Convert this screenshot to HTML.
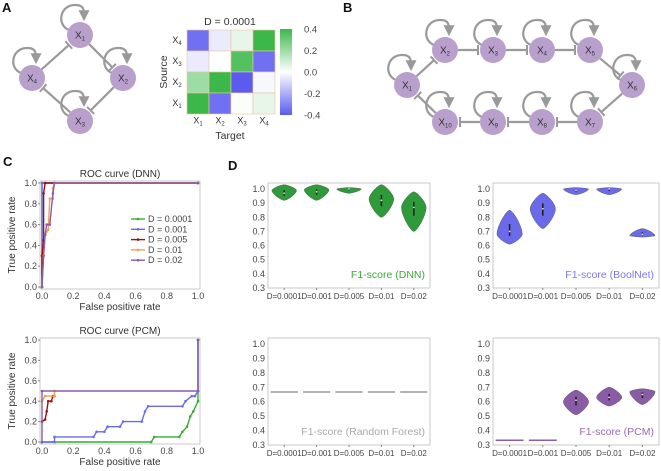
<!DOCTYPE html>
<html><head><meta charset="utf-8">
<style>
html,body{margin:0;padding:0;background:#fff;}
svg{display:block;font-family:"Liberation Sans",Arial,sans-serif;}
</style></head>
<body>
<svg id="fig" width="661" height="471" viewBox="0 0 661 471" xmlns="http://www.w3.org/2000/svg">
<defs>
<marker id="arr" viewBox="0 0 10 10" refX="8" refY="5" markerWidth="5" markerHeight="5" orient="auto"><path d="M0,0 L10,5 L0,10 z" fill="#999"/></marker>
<linearGradient id="cbar" x1="0" y1="0" x2="0" y2="1">
<stop offset="0" stop-color="#3cb84a"/><stop offset="0.5" stop-color="#ffffff"/><stop offset="1" stop-color="#5b5bf0"/>
</linearGradient>
</defs>
<g id="root"></g>
</svg>
<script>
// ---------- data ----------
const heatRows = ["X4","X3","X2","X1"];
const heatCols = ["X1","X2","X3","X4"];
const heatVals = [
  [-0.35,-0.05,0.05,0.40],
  [-0.05,0.00,0.35,-0.35],
  [0.20,0.40,-0.40,-0.02],
  [0.40,-0.35,0.01,0.05]
];
const cbarTicks = [0.4,0.2,0.0,-0.2,-0.4];

const rocLegend = ["D = 0.0001","D = 0.001","D = 0.005","D = 0.01","D = 0.02"];
const rocTicks = [0,0.2,0.4,0.6,0.8,1.0];
const dnnFpr = [
  [0,0,1],
  [0,0,1],
  [0,0,0.01,0.01,0.02,1],
  [0,0.01,0.02,0.04,0.05,0.07,0.07,0.08,1],
  [0,0.01,0.02,0.03,0.05,0.07,0.08,1]
];
const dnnTpr = [
  [0,1,1],
  [0,1,1],
  [0,0.3,0.45,0.9,1,1],
  [0,0.3,0.5,0.55,0.85,0.85,0.95,1,1],
  [0,0.3,0.5,0.6,0.6,0.9,1,1]
];
const pcmFpr = [
  [0,0.7,0.72,0.88,0.9,0.93,0.95,0.97,1,1],
  [0,0.08,0.08,0.33,0.35,0.4,0.42,0.5,0.52,0.64,0.66,0.68,0.9,0.92,0.96,0.98,1,1],
  [0,0.02,0.03,0.04,0.06,0.07,0.08],
  [0,0.02,0.08,0.08],
  [0,0,1,1]
];
const pcmTpr = [
  [0,0,0.05,0.05,0.1,0.15,0.25,0.3,0.4,1],
  [0,0,0.05,0.05,0.1,0.1,0.15,0.15,0.2,0.2,0.3,0.35,0.35,0.4,0.45,0.45,0.5,1],
  [0.2,0.22,0.3,0.4,0.4,0.45,0.45],
  [0.4,0.45,0.45,0.5],
  [0,0.5,0.5,1]
];

const violinCats = ["D=0.0001","D=0.001","D=0.005","D=0.01","D=0.02"];
const violinTicks = [0.3,0.4,0.5,0.6,0.7,0.8,0.9,1.0];
const dnnLo = [0.92,0.92,0.97,0.80,0.70];
const dnnHi = [1.03,1.03,1.01,1.03,0.98];
const dnnPeak = [0.99,0.995,1.0,0.93,0.87];
const dnnMed = [0.97,0.98,1.0,0.92,0.87];
const boolLo = [0.61,0.72,0.96,0.96,0.66];
const boolHi = [0.85,0.97,1.01,1.01,0.72];
const boolPeak = [0.68,0.86,1.0,1.0,0.67];
const boolMed = [0.70,0.86,0.99,1.0,0.68];
const rfLo = [0.667,0.667,0.667,0.667,0.667];
const rfHi = [0.667,0.667,0.667,0.667,0.667];
const rfPeak = [0.667,0.667,0.667,0.667,0.667];
const rfMed = [0.667,0.667,0.667,0.667,0.667];
const pcmLo = [0.333,0.333,0.51,0.57,0.58];
const pcmHi = [0.333,0.333,0.68,0.70,0.69];
const pcmPeak = [0.333,0.333,0.60,0.63,0.67];
const pcmMed = [0.333,0.333,0.61,0.63,0.65];

// ---------- helpers ----------
const NS = "http://www.w3.org/2000/svg";
const root = document.getElementById("root");
function mk(tag, attrs, parent){
  const e = document.createElementNS(NS, tag);
  for (const k in attrs) e.setAttribute(k, attrs[k]);
  (parent||root).appendChild(e);
  return e;
}
function txt(str, x, y, opts, parent){
  const t = mk("text", Object.assign({x:x,y:y,"font-size":9,fill:"#444"}, opts||{}), parent);
  t.textContent = str;
  return t;
}
function nodeLabel(name, x, y, parent){
  const t = mk("text",{x:x,y:y+3.5,"font-size":10,fill:"#333","text-anchor":"middle"},parent);
  const a = mk("tspan",{},t); a.textContent = "X";
  const b = mk("tspan",{"font-size":6,dy:2}, t); b.textContent = name.slice(1);
  return t;
}
const NODE = "#b9a0cc", EDGE = "#9a9a9a";
function node(name, x, y, parent){
  const g = mk("g",{},parent);
  
  
  mk("circle",{cx:x,cy:y,r:13,fill:NODE},g);
  nodeLabel(name,x,y,g);
}
function selfLoop(x, y, parent){
  const p = mk("path",{d:`M${x-11},${y-5} C${x-24},${y-10} ${x-20},${y-31} ${x-4},${y-30} C${x+5},${y-30} ${x+4},${y-23} ${x+4},${y-16}`,fill:"none",stroke:EDGE,"stroke-width":2.2,"marker-end":"url(#arr)"},parent);
  
  
}
function inhib(x1,y1,x2,y2,parent){
  const dx=x2-x1, dy=y2-y1, L=Math.hypot(dx,dy), ux=dx/L, uy=dy/L;
  const sx=x1+ux*13, sy=y1+uy*13, ex=x2-ux*15, ey=y2-uy*15;
  const g = mk("g",{},parent);
  
  
  mk("line",{x1:sx,y1:sy,x2:ex,y2:ey,stroke:EDGE,"stroke-width":2.2},g);
  mk("line",{x1:ex-uy*5,y1:ey+ux*5,x2:ex+uy*5,y2:ey-ux*5,stroke:EDGE,"stroke-width":2},g);
}
function panelLabel(s,x,y){
  const t = txt(s,x,y,{"font-size":13,"font-weight":"bold",fill:"#111"});
  
  
}

// ---------- Panel A ----------
panelLabel("A",2,12);
const netA = mk("g",{});


const posA = {X1:[80,35],X2:[123,78],X3:[80,121],X4:[32,78]};
inhib(80,35,123,78,netA); inhib(123,78,80,121,netA); inhib(80,121,32,78,netA); inhib(32,78,80,35,netA);
for (const k in posA){ selfLoop(posA[k][0],posA[k][1],netA); }
for (const k in posA){ node(k,posA[k][0],posA[k][1],netA); }

// heatmap
const hm = mk("g",{});


const hx0=187, hy0=30, cw=22, ch=21;
function heatColor(v){
  const t=Math.max(-1,Math.min(1,v/0.4));
  let c1=[255,255,255], c2 = t>=0?[60,184,74]:[91,91,240];
  const a=Math.abs(t);
  return `rgb(${Math.round(c1[0]+(c2[0]-c1[0])*a)},${Math.round(c1[1]+(c2[1]-c1[1])*a)},${Math.round(c1[2]+(c2[2]-c1[2])*a)})`;
}
heatRows.forEach((r,i)=>{
  heatCols.forEach((c,j)=>{
    const cell = mk("rect",{x:hx0+j*cw,y:hy0+i*ch,width:cw,height:ch,fill:heatColor(heatVals[i][j]),stroke:"#e8c8a0","stroke-width":0.6},hm);
    
    
  });
  const l = nodeLabel(r, 177, hy0+i*ch+ch/2-1, hm);
  l.setAttribute("font-size",9);
  
  
});
heatCols.forEach((c,j)=>{
  const l = nodeLabel(c, hx0+j*cw+cw/2, 120, hm);
  l.setAttribute("font-size",9);
  
  
});
const ht = txt("D =  0.0001",230,25,{"font-size":10.5,fill:"#333","text-anchor":"middle"},hm);


const tg = txt("Target",230,139,{"font-size":10.5,fill:"#333","text-anchor":"middle"},hm);


const src = txt("Source",0,0,{"font-size":10.5,fill:"#333","text-anchor":"middle",transform:"translate(167,72) rotate(-90)"},hm);


const cb = mk("rect",{x:280,y:29,width:12,height:86,fill:"url(#cbar)"},hm);


cbarTicks.forEach(v=>{
  const y = 29 + (0.4-v)/0.8*86;
  const t = txt(v.toFixed(1),304,y+3.5,{"font-size":9.5,fill:"#444"},hm);
  
  
});

// ---------- Panel B ----------
panelLabel("B",343,12);
const netB = mk("g",{});


const posB = {X1:[407,85],X2:[445,50],X3:[493,50],X4:[542,50],X5:[590,50],X6:[632,85],X7:[590,122],X8:[542,122],X9:[493,122],X10:[445,122]};
const orderB = ["X1","X2","X3","X4","X5","X6","X7","X8","X9","X10","X1"];
for (let i=0;i<orderB.length-1;i++){ const a=posB[orderB[i]], b=posB[orderB[i+1]]; inhib(a[0],a[1],b[0],b[1],netB); }
for (const k in posB){ selfLoop(posB[k][0],posB[k][1],netB); }
for (const k in posB){ node(k,posB[k][0],posB[k][1],netB); }

// ---------- Panel C ----------
panelLabel("C",3,166);
const rocColors = ["#3aaa3a","#6b6bea","#a01010","#f0a050","#8a5ca8"];
function rocPlot(name, title, fprArr, tprArr, box, showLegend){
  const g = mk("g",{});
  
  
  const x0=box.x0, x1=box.x1, yb=box.yb, yt=box.yt;
  const sx = v => x0 + v*(x1-x0);
  const sy = v => yb - v*(yb-yt);
  const fr = mk("rect",{x:x0-2,y:yt-2,width:(x1-x0)+4,height:(yb-yt)+4,fill:"none",stroke:"#bbb","stroke-width":0.8},g);
  
  
  rocTicks.forEach(v=>{
    const a = txt(v.toFixed(1),x0-5,sy(v)+3,{"text-anchor":"end"},g);
    
    
    mk("line",{x1:x0-4,x2:x0-2,y1:sy(v),y2:sy(v),stroke:"#888"},g);
    const b = txt(v.toFixed(1),sx(v),yb+12,{"text-anchor":"middle"},g);
    
    
  });
  const t = txt(title,(x0+x1)/2,yt-6,{"font-size":10,"text-anchor":"middle",fill:"#333"},g);
  
  
  const xt = txt("False positive rate",(x0+x1)/2,yb+23,{"font-size":10,"text-anchor":"middle",fill:"#333"},g);
  
  
  const yt2 = txt("True positive rate",0,0,{"font-size":10,"text-anchor":"middle",fill:"#333",transform:`translate(15,${(yb+yt)/2}) rotate(-90)`},g);
  
  
  fprArr.forEach((fs,i)=>{
    const pts = fs.map((f,k)=>sx(f).toFixed(1)+","+sy(tprArr[i][k]).toFixed(1)).join(" ");
    const pl = mk("polyline",{points:pts,fill:"none",stroke:rocColors[i],"stroke-width":1.4},g);
    
    
    fs.forEach((f,k)=>{
      const c = mk("circle",{cx:sx(f),cy:sy(tprArr[i][k]),r:1.3,fill:rocColors[i]},g);
      
      
    });
  });
  if (showLegend){
    rocLegend.forEach((s,i)=>{
      const y = 219 + i*10.3;
      const lg = mk("g",{},g);
      
      
      mk("line",{x1:131,x2:145,y1:y,y2:y,stroke:rocColors[i],"stroke-width":1.4},lg);
      mk("circle",{cx:138,cy:y,r:1.3,fill:rocColors[i]},lg);
      txt(s,148,y+3,{"font-size":9},lg);
    });
  }
}
rocPlot("roc-dnn","ROC curve (DNN)",dnnFpr,dnnTpr,{x0:42,x1:198,yb:287,yt:183},true);
rocPlot("roc-pcm","ROC curve (PCM)",pcmFpr,pcmTpr,{x0:42,x1:198,yb:442,yt:340},false);

// ---------- Panel D ----------
panelLabel("D",228,170);
function violinPlot(name, label, labelColor, fill, lo, hi, peak, med, box){
  const g = mk("g",{});
  
  
  const sy = v => box.yb - (v-0.3)/0.7*(box.yb-box.y1);
  const fr = mk("rect",{x:box.x0,y:box.yt,width:box.x1-box.x0,height:box.yb-box.yt,fill:"none",stroke:"#bbb","stroke-width":0.8},g);
  
  
  violinTicks.forEach(v=>{
    const t = txt(v.toFixed(1),box.x0-3,sy(v)+3,{"text-anchor":"end"},g);
    
    
  });
  const step = (box.x1-box.x0)/5;
  violinCats.forEach((c,i)=>{
    const cx = box.x0 + step*(i+0.5);
    const t = txt(c,cx,box.yb+11,{"text-anchor":"middle","font-size":8},g);
    
    
    mk("line",{x1:cx,x2:cx,y1:box.yb,y2:box.yb+2,stroke:"#888"},g);
    const w = step*0.38;
    if (hi[i]-lo[i] < 0.005){
      const ln = mk("line",{x1:cx-step*0.42,x2:cx+step*0.42,y1:sy(med[i]),y2:sy(med[i]),stroke:fill,"stroke-width":1.5},g);
      
      
      return;
    }
    const yh=sy(hi[i]), yp=sy(peak[i]), yl=sy(lo[i]);
    const d = `M${cx},${yh} C${cx+0.25*w},${yh} ${cx+w},${yp-(yp-yh)*0.35} ${cx+w},${yp} C${cx+w},${yp+(yl-yp)*0.35} ${cx+0.25*w},${yl} ${cx},${yl} C${cx-0.25*w},${yl} ${cx-w},${yp+(yl-yp)*0.35} ${cx-w},${yp} C${cx-w},${yp-(yp-yh)*0.35} ${cx-0.25*w},${yh} ${cx},${yh} Z`;
    const p = mk("path",{d:d,fill:fill,stroke:"#555","stroke-width":0.5},g);
    
    
    const q1 = med[i]-(med[i]-lo[i])*0.35, q3 = med[i]+(hi[i]-med[i])*0.35;
    mk("line",{x1:cx,x2:cx,y1:sy(q3),y2:sy(q1),stroke:"#222","stroke-width":1.6},g);
    mk("circle",{cx:cx,cy:sy(med[i]),r:0.9,fill:"#ddd"},g);
  });
  const lt = txt(label,box.x1-5,box.yb-10,{"font-size":10.5,"text-anchor":"end",fill:labelColor},g);
  
  
}
violinPlot("violin-dnn","F1-score (DNN)","#3aaa3a","#2e9a3a",dnnLo,dnnHi,dnnPeak,dnnMed,{x0:268,x1:430,yt:183,yb:288,y1:189});
violinPlot("violin-boolnet","F1-score (BoolNet)","#7a7aea","#6b6bea",boolLo,boolHi,boolPeak,boolMed,{x0:493,x1:659,yt:183,yb:288,y1:189});
violinPlot("violin-rf","F1-score (Random Forest)","#aaa","#999",rfLo,rfHi,rfPeak,rfMed,{x0:268,x1:430,yt:338,yb:445,y1:344});
violinPlot("violin-pcm","F1-score (PCM)","#9a6ab8","#8a5ca8",pcmLo,pcmHi,pcmPeak,pcmMed,{x0:493,x1:659,yt:338,yb:445,y1:344});
</script>
</body></html>
